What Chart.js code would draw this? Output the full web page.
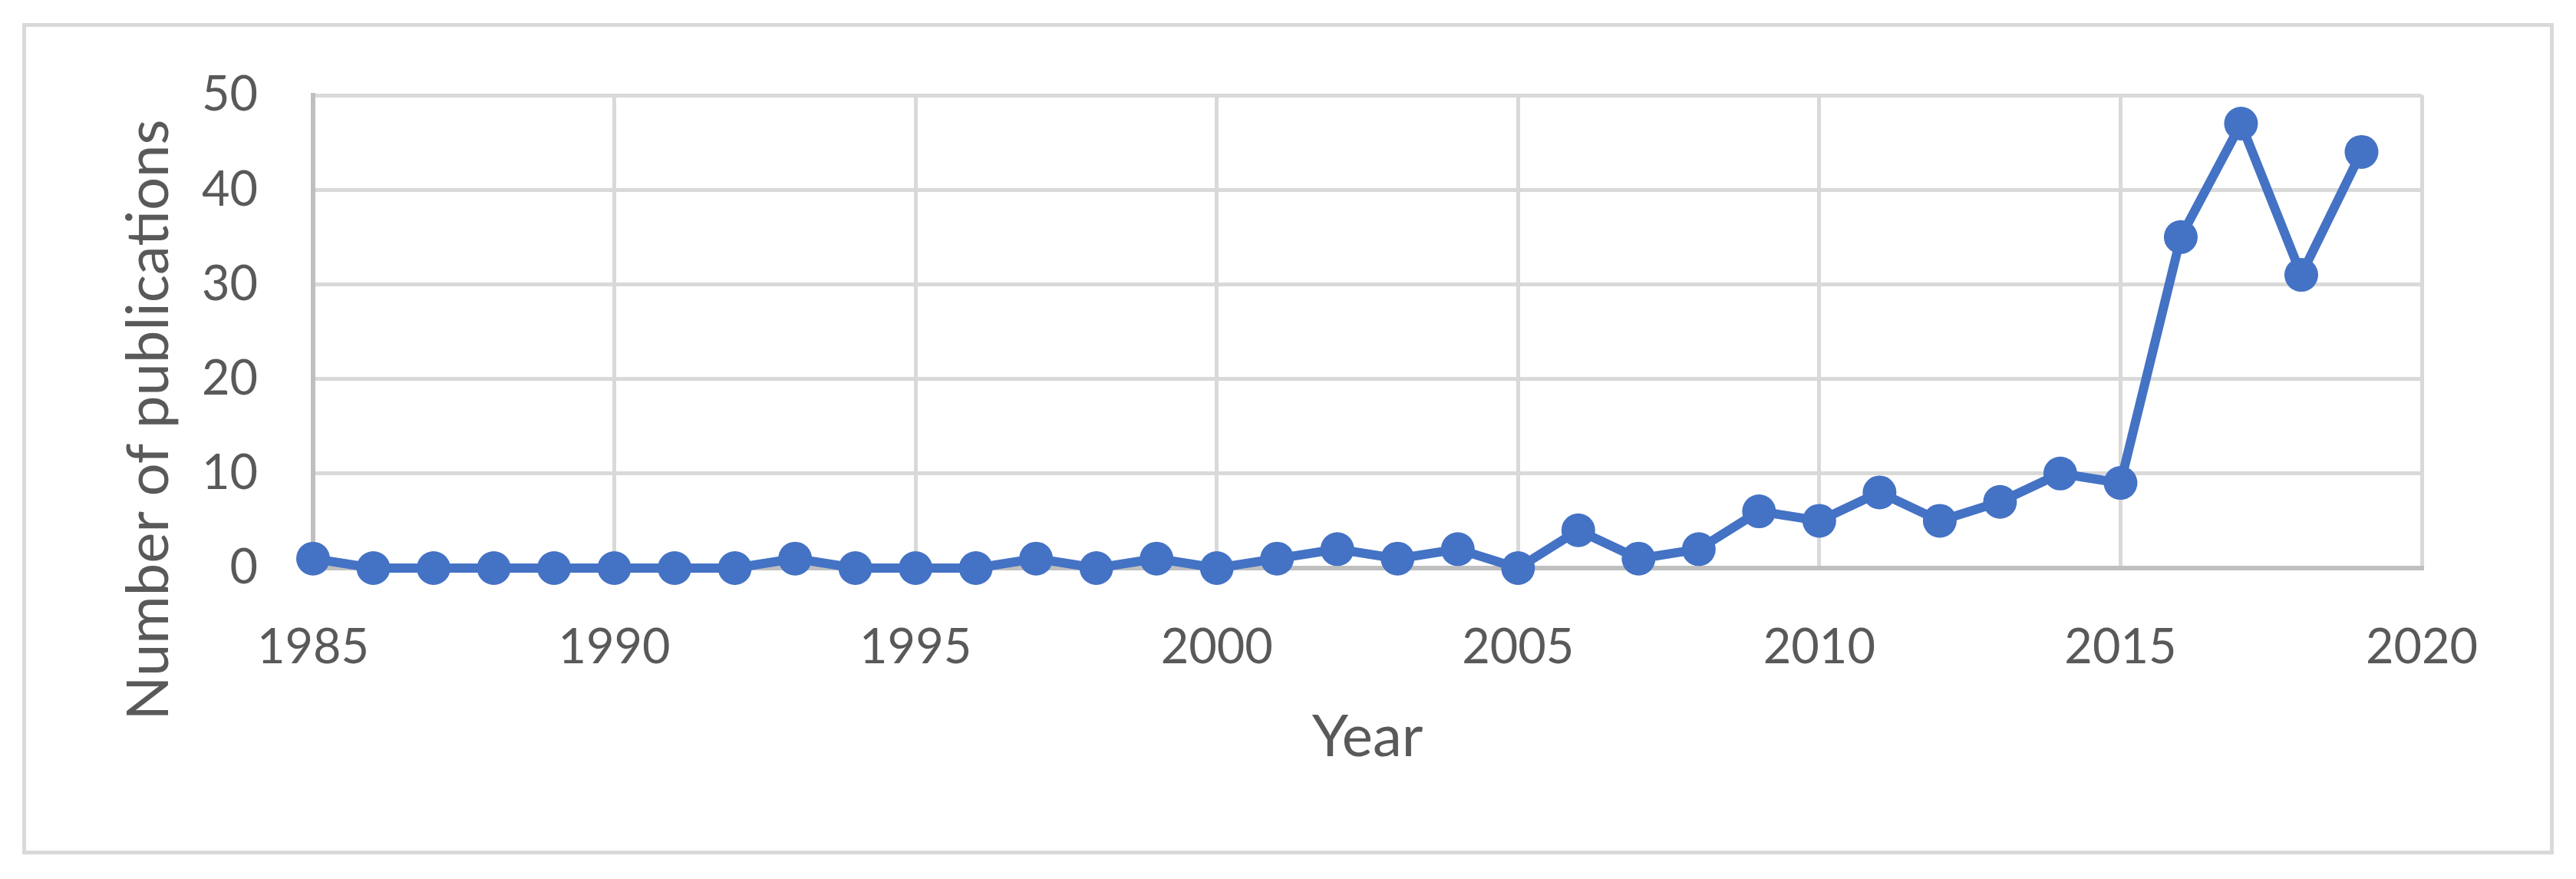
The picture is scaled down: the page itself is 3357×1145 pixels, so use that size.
<!DOCTYPE html>
<html>
<head>
<meta charset="utf-8">
<script src="https://cdn.jsdelivr.net/npm/chart.js@4/dist/chart.umd.min.js"></script>
<style>
  body { margin: 0; background: #fff; }
  #wrap { position: relative; width: 3357px; height: 1145px; }
  #frame { position: absolute; left: 29px; top: 30px; width: 3289px; height: 1073px; border: 5px solid #D9D9D9; }
  canvas { position: absolute; left: 0; top: 0; }
</style>
</head>
<body>
<div id="wrap">
  <div id="frame"></div>
  <canvas id="myChart" width="3357" height="1145"></canvas>
</div>
<script>
var years = [1985, 1986, 1987, 1988, 1989, 1990, 1991, 1992, 1993, 1994,
             1995, 1996, 1997, 1998, 1999, 2000, 2001, 2002, 2003, 2004,
             2005, 2006, 2007, 2008, 2009, 2010, 2011, 2012, 2013, 2014,
             2015, 2016, 2017, 2018, 2019];
var publications = [1, 0, 0, 0, 0, 0, 0, 0, 1, 0,
                    0, 0, 1, 0, 1, 0, 1, 2, 1, 2,
                    0, 4, 1, 2, 6, 5, 8, 5, 7, 10,
                    9, 35, 47, 31, 44];
var yTitle = 'Number of publications';
var xTitle = 'Year';

var textColor = '#595959';
var blue = '#4472C4';

var points = years.map(function(y, i) { return {x: y, y: publications[i]}; });

// y title is centred on the whole chart, not the plot, so draw it by hand
var yTitlePlugin = {
  id: 'yTitle',
  afterDraw: function(chart) {
    var c = chart.ctx;
    c.save();
    c.translate(194, 547);
    c.rotate(-Math.PI / 2);
    c.font = '76px Lato';
    c.fillStyle = textColor;
    c.textAlign = 'center';
    c.textBaseline = 'middle';
    c.fillText(yTitle, 0, 0);
    c.restore();
  }
};

var ctx = document.getElementById('myChart').getContext('2d');
var chart = new Chart(ctx, {
  type: 'line',
  data: {
    datasets: [{
      data: points,
      borderColor: blue,
      backgroundColor: blue,
      borderWidth: 12,
      pointRadius: 22,
      pointBorderWidth: 0,
      pointBackgroundColor: blue,
      tension: 0,
      clip: false
    }]
  },
  options: {
    responsive: false,
    devicePixelRatio: 1,
    animation: false,
    layout: { padding: { top: 124, right: 201, bottom: 0, left: 0 } },
    plugins: { legend: { display: false }, tooltip: { enabled: false } },
    scales: {
      x: {
        type: 'linear',
        min: 1985,
        max: 2020,
        afterFit: function(s) { s.height = 405; },
        ticks: {
          stepSize: 5,
          color: textColor,
          font: { family: 'Lato', size: 63 },
          padding: 66,
          maxRotation: 0,
          callback: function(v) { return String(v); }
        },
        grid: { color: '#D9D9D9', lineWidth: 5, drawTicks: false },
        border: { color: '#BFBFBF', width: 6 },
        title: {
          display: true,
          text: xTitle,
          color: textColor,
          font: { family: 'Lato', size: 76 },
          padding: { top: 0, bottom: 139 }
        }
      },
      y: {
        min: 0,
        max: 50,
        afterFit: function(s) { s.width = 408; },
        ticks: {
          stepSize: 10,
          color: textColor,
          font: { family: 'Lato', size: 63 },
          padding: 72
        },
        grid: { color: '#D9D9D9', lineWidth: 5, drawTicks: false },
        border: { color: '#BFBFBF', width: 6 }
      }
    }
  },
  plugins: [yTitlePlugin]
});
</script>
</body>
</html>
